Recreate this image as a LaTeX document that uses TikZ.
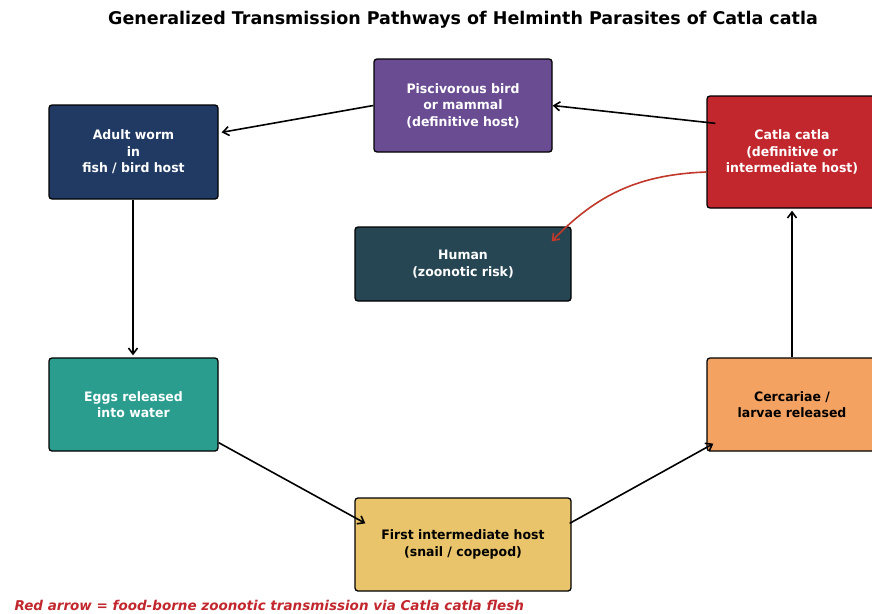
\documentclass[tikz,border=0pt]{standalone}
\usepackage{fontspec}
\setmainfont{DejaVu Sans}
\newfontfamily\boxfont[FakeStretch=0.96]{DejaVu Sans}
\usetikzlibrary{arrows.meta,calc}
\definecolor{piscC}{HTML}{6A4C93}
\definecolor{adultC}{HTML}{213A64}
\definecolor{catlaC}{HTML}{C1272D}
\definecolor{humanC}{HTML}{264653}
\definecolor{eggsC}{HTML}{2A9D8F}
\definecolor{cercC}{HTML}{F4A261}
\definecolor{firstC}{HTML}{E9C46A}
\definecolor{redarr}{HTML}{C0392B}
\tikzset{
  box/.style={draw=black, line width=1.3pt, rounded corners=3pt, align=center,
    font=\boxfont\bfseries\fontsize{13}{16.5}\selectfont, inner sep=0pt},
  arr/.style={line width=1.6pt, -{Straight Barb[length=6pt,width=9pt]}},
  redarrow/.style={line width=1.6pt, draw=redarr, -{Straight Barb[length=6pt,width=9pt]}}
}
\begin{document}
\begin{tikzpicture}[x=1pt,y=-1pt]
\useasboundingbox (0,0) rectangle (872,613);
\clip (0,0) rectangle (872,613);
\fill[white] (0,0) rectangle (872,613);

\node[font=\bfseries\fontsize{17.5}{20}\selectfont] (title) at (463,20)
  {Generalized Transmission Pathways of Helminth Parasites of Catla catla};

\node[box, fill=piscC, text=white, minimum width=178pt, minimum height=93pt] (pisc) at (463,105.5)
  {Piscivorous bird\\or mammal\\(definitive host)};
\node[box, fill=adultC, text=white, minimum width=169pt, minimum height=94pt] (adult) at (133.5,152)
  {Adult worm\\in\\fish / bird host};
\node[box, fill=catlaC, text=white, minimum width=170pt, minimum height=112pt] (catla) at (792,152)
  {Catla catla\\(definitive or\\intermediate host)};
\node[box, fill=humanC, text=white, minimum width=216pt, minimum height=74pt] (human) at (463,264)
  {Human\\(zoonotic risk)};
\node[box, fill=eggsC, text=white, minimum width=169pt, minimum height=93pt] (eggs) at (133.5,404.5)
  {Eggs released\\into water};
\node[box, fill=cercC, text=black, minimum width=170pt, minimum height=93pt] (cerc) at (792,404.5)
  {Cercariae /\\larvae released};
\node[box, fill=firstC, text=black, minimum width=216pt, minimum height=93pt] (first) at (463,544.5)
  {First intermediate host\\(snail / copepod)};

\draw[arr] ($(catla.north west)+(9,28)$) -- (pisc.east);
\draw[arr] (pisc.west) -- ($(adult.north east)+(3,28)$);
\draw[arr, shorten >=2pt] ($(adult.south)+(-0.5,0)$) -- ($(eggs.north)+(-0.5,0)$);
\draw[arr] ($(eggs.south east)+(0,-9)$) -- ($(first.north west)+(11,26)$);
\draw[arr] ($(first.north east)+(-2,26)$) -- ($(cerc.south west)+(7,-8)$);
\draw[arr, shorten >=2pt] (cerc.north) -- (catla.south);
\draw[redarrow] ($(catla.west)+(0,20)$) to[bend right=22] ($(human.north east)+(-20,15)$);

\node[anchor=west, text=catlaC, font=\bfseries\itshape\fontsize{13.5}{16}\selectfont] (note) at (11,605)
  {Red arrow = food-borne zoonotic transmission via Catla catla flesh};
\end{tikzpicture}
\end{document}
